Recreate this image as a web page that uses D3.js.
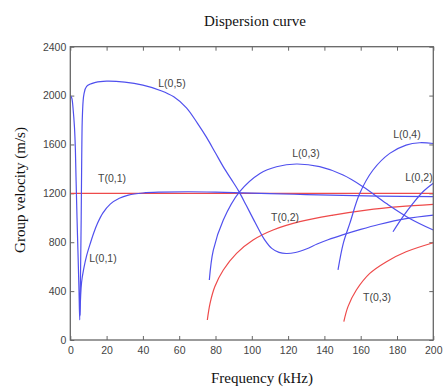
<!DOCTYPE html>
<html>
<head>
<meta charset="utf-8">
<script src="https://cdn.jsdelivr.net/npm/d3@7"></script>
<style>
	body { margin: 0; background: #fff; }
	.tick text { font-family: "Liberation Sans", Arial, sans-serif; font-size: 10.5px; fill: #444; }
	.tick line { stroke: #666; }
	.domain { stroke: none; }
	.lbl { font-family: "Liberation Sans", Arial, sans-serif; font-size: 10.5px; fill: #444; }
	.serif { font-family: "Liberation Serif", "Times New Roman", serif; fill: #111; }
</style>
</head>
<body>
<svg id="chart" width="445" height="387"></svg>
<script>
// dispersion curves, [frequency kHz, group velocity m/s]
var xTicks = [0, 20, 40, 60, 80, 100, 120, 140, 160, 180, 200];
var yTicks = [0, 400, 800, 1200, 1600, 2000, 2400];

var T01 = [[0, 1200], [200, 1200]];
var T02 = [[75.5, 164], [77, 300], [79.6, 436], [84.3, 573], [91.6, 709], [100.7, 818],
	[111.7, 900], [126.4, 968], [144.8, 1022], [163.1, 1063], [181.4, 1091], [200, 1110]];
var T03 = [[150.7, 150], [153, 273], [157.6, 409], [165, 545], [174.2, 641], [185, 722], [200, 796]];

var L01 = [[5.3, 200], [6.2, 470], [7.5, 590], [9, 690], [11, 790], [13, 880], [15, 955],
	[18, 1040], [22, 1112], [27, 1160], [32, 1186], [40, 1203], [50, 1210], [65, 1213],
	[80, 1210], [95, 1204], [110, 1198], [130, 1190], [150, 1183], [170, 1178], [200, 1174]];
var L02 = [[177.8, 886], [183.3, 1009], [188.8, 1117], [194.3, 1213], [200, 1282]];
var L03 = [[76.6, 491], [78.8, 736], [84.3, 982], [93.1, 1210], [104.5, 1363], [113.6, 1418],
	[124.6, 1440], [137.4, 1418], [150.3, 1350], [161.3, 1254], [174.2, 1117], [187, 995], [200, 900]];
var L04 = [[147.5, 573], [150.4, 791], [154, 954], [159.5, 1200], [166.8, 1391], [176, 1527],
	[185, 1595], [192.5, 1614], [200, 1608]];
var L05 = [[0, 2000], [0.8, 1980], [1.6, 1880], [2.3, 1740], [2.8, 1560], [3.2, 1300], [3.7, 1000],
	[4.3, 680], [4.8, 400], [5.2, 165], [5.6, 500], [6.0, 1000], [6.3, 1500], [6.7, 1850],
	[7.5, 2010], [9, 2075], [14, 2108], [20, 2118], [30, 2110], [40, 2085], [50, 2040],
	[57, 1990], [64, 1900], [70, 1775], [75, 1660], [80, 1530], [85, 1400], [90, 1285], [93.1, 1210],
	[97, 1100], [101, 985], [104, 900], [107, 822], [111, 750], [115, 717], [119, 708],
	[124, 716], [130, 745], [136, 785], [142, 820], [150, 860], [160, 905], [170, 945],
	[185, 993], [200, 1022]];

var blueCurves = [L01, L02, L03, L04, L05];
var redCurves = [T01, T02, T03];

var labels = [
	["L(0,5)", 172, 83], ["T(0,1)", 112, 178], ["L(0,1)", 103, 258], ["L(0,3)", 306, 153],
	["T(0,2)", 285, 217], ["L(0,4)", 407, 134], ["L(0,2)", 419, 177], ["T(0,3)", 377, 297]
];

var svg = d3.select("#chart");
var plotL = 70.3, plotR = 433.3, plotT = 46.7, plotB = 340;

var x = d3.scaleLinear().domain([0, 200]).range([plotL, plotR]);
var y = d3.scaleLinear().domain([0, 2400]).range([plotB, plotT]);

var line = d3.line()
	.x(function(d) { return x(d[0]); })
	.y(function(d) { return y(d[1]); })
	.curve(d3.curveCatmullRom.alpha(0.5));

// axes with inward ticks on all four sides
svg.append("g").attr("transform", "translate(0," + plotB + ")")
	.call(d3.axisBottom(x).tickValues(xTicks).tickFormat(d3.format("d"))
		.tickSizeInner(-4).tickSizeOuter(0).tickPadding(7));
svg.append("g").attr("transform", "translate(0," + plotT + ")")
	.call(d3.axisTop(x).tickValues(xTicks).tickSizeInner(-4).tickSizeOuter(0).tickFormat(""));
svg.append("g").attr("transform", "translate(" + plotL + ",0)")
	.call(d3.axisLeft(y).tickValues(yTicks).tickFormat(d3.format("d"))
		.tickSizeInner(-4).tickSizeOuter(0).tickPadding(4));
svg.append("g").attr("transform", "translate(" + plotR + ",0)")
	.call(d3.axisRight(y).tickValues(yTicks).tickSizeInner(-4).tickSizeOuter(0).tickFormat(""));

svg.append("g").selectAll("path").data(redCurves).enter()
	.append("path")
		.attr("d", line)
		.style("fill", "none")
		.style("stroke", "#ee4a4a")
		.style("stroke-width", 1.2);

svg.append("g").selectAll("path").data(blueCurves).enter()
	.append("path")
		.attr("d", line)
		.style("fill", "none")
		.style("stroke", "#5050ee")
		.style("stroke-width", 1.2);

svg.append("rect")
	.attr("x", plotL).attr("y", plotT)
	.attr("width", plotR - plotL).attr("height", plotB - plotT)
	.style("fill", "none").style("stroke", "#666").style("stroke-width", 1.3);

svg.append("g").selectAll("text").data(labels).enter()
	.append("text")
		.attr("class", "lbl")
		.attr("x", function(d) { return d[1]; })
		.attr("y", function(d) { return d[2]; })
		.attr("dy", "0.35em")
		.attr("text-anchor", "middle")
		.text(function(d) { return d[0]; });

svg.append("text").attr("class", "serif")
	.attr("x", 255).attr("y", 26)
	.attr("text-anchor", "middle").style("font-size", "15px")
	.text("Dispersion curve");

svg.append("text").attr("class", "serif")
	.attr("x", 262).attr("y", 383)
	.attr("text-anchor", "middle").style("font-size", "15px")
	.text("Frequency (kHz)");

svg.append("text").attr("class", "serif")
	.attr("transform", "translate(25,190) rotate(-90)")
	.attr("text-anchor", "middle").style("font-size", "15px")
	.text("Group velocity (m/s)");
</script>
</body>
</html>
